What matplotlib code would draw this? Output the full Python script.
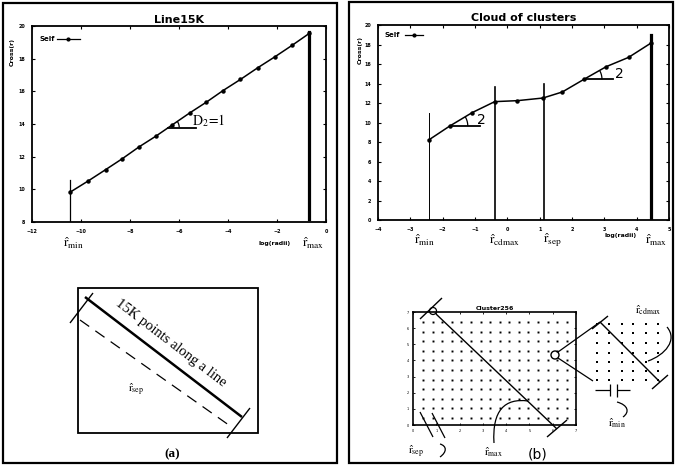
import numpy as np
import matplotlib
matplotlib.use("Agg")
import matplotlib.pyplot as plt
from matplotlib.patches import Rectangle, Circle, PathPatch
from matplotlib.path import Path

plt.rcParams['mathtext.fontset'] = 'stix'
plt.rcParams['font.family'] = ['DejaVu Sans']

W, H = 675, 469

# ---------------- data ----------------
line_x = [-10.43, -9.71, -8.99, -8.31, -7.63, -6.95, -6.27, -5.56, -4.88,
          -4.20, -3.49, -2.79, -2.08, -1.39, -0.68]
line_y = [9.84, 10.51, 11.21, 11.88, 12.60, 13.25, 13.95, 14.68, 15.34,
          16.05, 16.73, 17.44, 18.12, 18.81, 19.55]
cloud_x = [-2.43, -1.78, -1.09, -0.39, 0.31, 1.10, 1.70, 2.37, 3.06, 3.75, 4.43]
cloud_y = [8.21, 9.64, 11.01, 12.14, 12.24, 12.51, 13.13, 14.43, 15.73, 16.68, 18.12]

left_xticks = [-12, -10, -8, -6, -4, -2, 0]
left_yticks = [8, 10, 12, 14, 16, 18, 20]
right_xticks = [-4, -3, -2, -1, 0, 1, 2, 3, 4, 5]
right_yticks = [0, 2, 4, 6, 8, 10, 12, 14, 16, 18, 20]

# radius markers (x position, top of marker line, line width)
line_marks_x = [-10.43, -0.68]
line_marks_top = [10.55, 19.65]
line_marks_bot = [8.0, 8.2]
line_marks_lw = [0.9, 2.3]
cloud_marks_x = [-2.43, -0.39, 1.13, 4.43]
cloud_marks_top = [10.94, 13.6, 13.95, 18.97]
cloud_marks_lw = [0.7, 1.2, 1.2, 2.3]

# Cluster256 grid
grid_cols = [0.43, 0.84, 1.25, 1.67, 2.08, 2.49, 2.90, 3.31, 3.73, 4.14,
             4.55, 4.96, 5.37, 5.79, 6.20, 6.61]
grid_rows = [0.43, 1.03, 1.62, 2.22, 2.81, 3.41, 4.01, 4.60, 5.20, 5.79, 6.39]
cluster_ticks = [0, 1, 2, 3, 4, 5, 6, 7]
# zoomed detail grid
zoom_cols = [7, 19, 32, 43, 56, 68]
zoom_rows = [9, 18, 28, 38, 47, 56, 65]

fig = plt.figure(figsize=(W / 100, H / 100), dpi=100)


def px_axes(l, t, r, b, **kw):
    return fig.add_axes([l / W, 1 - b / H, (r - l) / W, (b - t) / H], **kw)


def style(ax, xlim, ylim, xt, yt):
    ax.set_xlim(xlim)
    ax.set_ylim(ylim)
    ax.set_xticks(xt)
    ax.set_yticks(yt)
    ax.tick_params(direction='in', length=2.5, width=0.8, top=True, right=True,
                   labelsize=3.5, pad=5)
    for lab in ax.get_xticklabels() + ax.get_yticklabels():
        lab.set_fontweight('bold')
    for s in ax.spines.values():
        s.set_linewidth(1.3)


def arc(ax, x0, y0, r_px, ang_deg, sx, sy, lw=0.9):
    t = np.radians(np.linspace(0, ang_deg, 30))
    ax.plot(x0 + r_px * np.cos(t) * sx, y0 + r_px * np.sin(t) * sy,
            color='black', lw=lw, solid_capstyle='butt')


# ---------------- Line15K ----------------
axL = px_axes(32, 26, 326, 222)
style(axL, (-12, 0), (8, 20), left_xticks, left_yticks)
axL.plot(line_x, line_y, color='black', lw=1.1, marker='o', ms=2.2)
for x, t, b, lw in zip(line_marks_x, line_marks_top, line_marks_bot, line_marks_lw):
    axL.plot([x, x], [b, t], color='black', lw=lw)
sxL, syL = 12 / 294, 12 / 196
slopeL = (line_y[-1] - line_y[0]) / (line_x[-1] - line_x[0])
angL = np.degrees(np.arctan(slopeL * sxL / syL))
axL.plot([-6.44, -5.29], [13.78, 13.78], color='black', lw=1.3)
arc(axL, -6.44, 13.78, 11, angL, sxL, syL)
axL.text(-5.47, 14.18, r'$\mathrm{D}_2\!=\!1$', fontsize=10, ha='left', va='center')
axL.set_title('Line15K', fontsize=8, fontweight='bold', pad=2)
axL.text(0.024, 0.934, 'Self', transform=axL.transAxes, fontsize=5,
         fontweight='bold', va='center', ha='left')
axL.plot([0.085, 0.124, 0.163], [0.934] * 3, transform=axL.transAxes,
         color='black', lw=0.9, marker='o', ms=2, markevery=[1])

# ---------------- Cloud of clusters ----------------
axR = px_axes(378, 25, 669, 220)
style(axR, (-4, 5), (0, 20), right_xticks, right_yticks)
axR.plot(cloud_x, cloud_y, color='black', lw=1.1, marker='o', ms=2.2)
for x, t, lw in zip(cloud_marks_x, cloud_marks_top, cloud_marks_lw):
    axR.plot([x, x], [0, t], color='black', lw=lw)
sxR, syR = 9 / 291, 20 / 195
for (i0, i1, xe, tx, ty) in [(1, 2, -0.86, -0.94, 10.26), (7, 8, 3.27, 3.33, 14.98)]:
    x0, y0 = cloud_x[i0], cloud_y[i0]
    sl = (cloud_y[i1] - y0) / (cloud_x[i1] - x0)
    ang = np.degrees(np.arctan(sl * sxR / syR))
    axR.plot([x0, xe], [y0, y0], color='black', lw=1.3)
    arc(axR, x0, y0, 18, ang, sxR, syR)
    axR.text(tx, ty, '2', fontsize=10, ha='left', va='center')
axR.set_title('Cloud of clusters', fontsize=8, fontweight='bold', pad=3)
axR.text(0.024, 0.949, 'Self', transform=axR.transAxes, fontsize=5,
         fontweight='bold', va='center', ha='left')
axR.plot([0.093, 0.124, 0.155], [0.949] * 3, transform=axR.transAxes,
         color='black', lw=0.9, marker='o', ms=2, markevery=[1])

# ---------------- Cluster256 ----------------
axC = px_axes(413, 312, 576, 425)
axC.set_xlim(0, 7)
axC.set_ylim(0, 7)
axC.set_xticks(cluster_ticks)
axC.set_yticks(cluster_ticks)
axC.tick_params(direction='in', length=1.5, width=0.6, top=True, right=True,
                labelsize=2.5, pad=3)
for s in axC.spines.values():
    s.set_linewidth(1.2)
gx, gy = np.meshgrid(grid_cols, grid_rows)
axC.plot(gx.ravel(), gy.ravel(), 's', color='black', ms=1.4, mew=0)
axC.set_title('Cluster256', fontsize=4.5, fontweight='bold', pad=1.5)

# zoomed detail
axZ = px_axes(590, 315, 670, 390)
axZ.set_xlim(0, 80)
axZ.set_ylim(75, 0)
axZ.axis('off')
zx, zy = np.meshgrid(zoom_cols, zoom_rows)
axZ.plot(zx.ravel(), zy.ravel(), 's', color='black', ms=1.9, mew=0)

# ---------------- overlay (pixel coordinates) ----------------
ov = fig.add_axes([0, 0, 1, 1], zorder=10)
ov.set_xlim(0, W)
ov.set_ylim(H, 0)
ov.axis('off')
ov.patch.set_alpha(0)


def seg(p, q, lw=1.0, **kw):
    ov.plot([p[0], q[0]], [p[1], q[1]], color='black', lw=lw,
            solid_capstyle='butt', **kw)


def curve(pts, lw=0.9):
    codes = [Path.MOVETO] + [Path.CURVE4] * (len(pts) - 1)
    ov.add_patch(PathPatch(Path(pts, codes), fill=False, lw=lw, ec='black'))


def rhat(x, y, sub, fs=9):
    ov.text(x, y, r'$\hat{\mathrm{r}}_{\mathrm{%s}}$' % sub, fontsize=fs,
            ha='center', va='center')


# panel borders
ov.add_patch(Rectangle((3, 3), 334, 460, fill=False, lw=1.6, ec='black'))
ov.add_patch(Rectangle((349, 2), 324, 461, fill=False, lw=1.6, ec='black'))

# y labels
ov.text(12, 52, 'Cross(r)', rotation=90, fontsize=4.5, fontweight='bold',
        ha='center', va='center')
ov.text(360, 50, 'Cross(r)', rotation=90, fontsize=4.5, fontweight='bold',
        ha='center', va='center')

# axis annotations
rhat(73, 243, 'min', 9.5)
ov.text(275, 243, 'log(radii)', fontsize=4.5, fontweight='bold', ha='center', va='center')
rhat(313, 243, 'max', 9.5)
rhat(424, 240, 'min', 9.5)
rhat(505, 240, 'cdmax', 9.5)
rhat(552, 240, 'sep', 9.5)
ov.text(621, 236, 'log(radii)', fontsize=4.5, fontweight='bold', ha='center', va='center')
rhat(656, 240, 'max', 9.5)

# panel (a) sketch
ov.add_patch(Rectangle((78, 288), 180, 145, fill=False, lw=1.3, ec='black'))
seg((85, 297), (242, 417), lw=1.8)
seg((70, 323), (93, 293), lw=1.0)
seg((227, 438), (250, 408), lw=1.0)
ov.plot([80, 233], [320, 428], color='black', lw=0.9, dashes=(9, 6))
ov.text(171, 343, '15K points along a line', rotation=-37.4, rotation_mode='anchor',
        ha='center', va='center', fontsize=10.5, family='Liberation Serif')
rhat(136, 390, 'sep', 8)
ov.text(172, 454, '(a)', fontsize=9.5, fontweight='bold', family='Liberation Serif',
        ha='center', va='center')

# panel (b) sketch
ov.add_patch(Circle((433, 311), 3.5, fill=False, lw=0.9, ec='black'))
seg((436, 314), (557, 429), lw=1.0)
seg((420, 319), (442, 298), lw=1.0)
seg((547, 437), (567, 420), lw=1.0)
ov.add_patch(Circle((555, 355), 4, fill=False, lw=1.0, ec='black'))
seg((558, 352), (600, 322), lw=0.9)
seg((558, 358), (593, 381), lw=0.9)
seg((600, 322), (660, 382), lw=1.0)
seg((592, 329), (608, 316), lw=1.0)
seg((652, 389), (668, 375), lw=1.0)
rhat(648, 310, 'cdmax', 8)
curve([(667, 327), (678, 340), (665, 355), (648, 361)])
seg((595, 390), (610, 390), lw=0.9)
seg((610, 384), (610, 396), lw=0.9)
seg((617, 384), (617, 397), lw=0.9)
seg((617, 390), (630, 390), lw=0.9)
curve([(617, 402), (628, 405), (630, 412), (623, 417)])
rhat(617, 423, 'min', 8)
seg((420, 412), (433, 437), lw=0.9)
seg((432, 413), (445, 438), lw=0.9)
curve([(440, 444), (447, 446), (447, 452), (440, 457)])
rhat(416, 452, 'sep', 8)
curve([(494, 443), (492, 410), (505, 398), (528, 401)])
rhat(494, 452, 'max', 8)
ov.text(538, 454, '(b)', fontsize=10, ha='center', va='center')

fig.savefig('out.png', dpi=100)
